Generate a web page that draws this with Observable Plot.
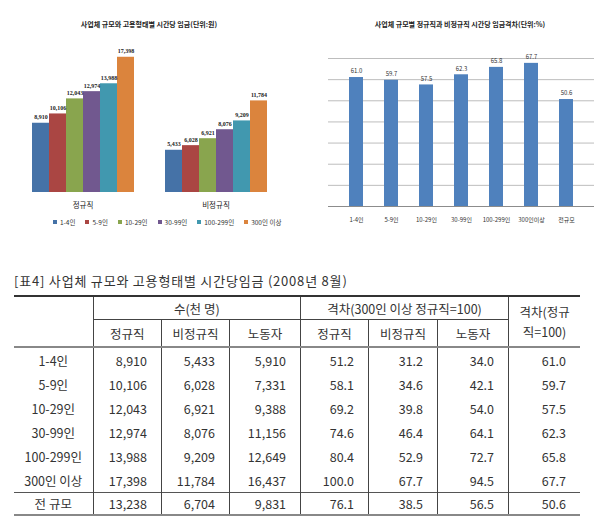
<!DOCTYPE html>
<html>
<head>
<meta charset="utf-8">
<script src="https://cdn.jsdelivr.net/npm/d3@7"></script>
<script src="https://cdn.jsdelivr.net/npm/@observablehq/plot@0.6"></script>
<style>
  body { margin: 0; background: #fff; font-family: "Noto Sans CJK KR", sans-serif; }
  #wrap { position: relative; width: 598px; height: 529px; overflow: hidden; background: #fff; }
  .abs { position: absolute; }
  .ctitle { position: absolute; top: 19px; font-size: 7px; font-weight: bold; color: #222; white-space: nowrap; transform: translateX(-50%); }
  .lg-swatches { font-family: "Noto Sans CJK KR", sans-serif; font-size: 6.5px; color: #333; margin: 0; }
  .lg-swatches-wrap { min-height: 0 !important; }
  .lg-swatch { margin-right: 10px !important; }
  .lg-swatch > svg { margin-right: 3px !important; }
  .ttitle { position: absolute; left: 14px; top: 271px; font-size: 13px; letter-spacing: 0.8px; color: #333; white-space: nowrap; }
  table.tbl { position: absolute; left: 14px; top: 295px; width: 566px; border-collapse: collapse; table-layout: fixed;
    font-size: 12.5px; color: #333; border-top: 2px solid #333; border-bottom: 2px solid #888; }
  table.tbl td { padding: 0; font-weight: normal; border-left: 1px solid #444; border-right: 1px solid #444; white-space: nowrap; }
  table.tbl tr td:first-child { border-left: none; }
  table.tbl tr td:last-child { border-right: none; }
  table.tbl tr.h1 td { height: 22px; text-align: center; }
  table.tbl tr.h1 td.grp { border-bottom: 1px solid #444; }
  table.tbl tr.h2 td { height: 26px; text-align: center; border-bottom: 2px solid #888; }
  table.tbl td.rspan { border-bottom: 2px solid #888; text-align: center; line-height: 20px; }
  table.tbl tr.body td { height: 24px; text-align: right; padding-right: 14px; }
  table.tbl tr.body td.lab { text-align: center; padding-right: 0; }
  table.tbl tr.total td { border-top: 1.5px solid #555; height: 21px; }
</style>
</head>
<body>
<div id="wrap"></div>
<script>
// ---------- data ----------
const sizeLabels = ["1-4인", "5-9인", "10-29인", "30-99인", "100-299인", "300인 이상"];
const employTypes = ["정규직", "비정규직"];
const leftColors = ["#4572A7", "#AA4643", "#89A54E", "#71588F", "#4198AF", "#DB843D"];

const ratioLabels = ["1-4인", "5-9인", "10-29인", "30-99인", "100-299인", "300인이상", "전규모"];
const gridTicks = [0, 10, 20, 30, 40, 50, 60, 70];

const rowLabels = ["1-4인", "5-9인", "10-29인", "30-99인", "100-299인", "300인 이상", "전 규모"];
const regularWage = [8910, 10106, 12043, 12974, 13988, 17398, 13238];
const irregularWage = [5433, 6028, 6921, 8076, 9209, 11784, 6704];
const allWage = [5910, 7331, 9388, 11156, 12649, 16437, 9831];
const gapRegular = [51.2, 58.1, 69.2, 74.6, 80.4, 100.0, 76.1];
const gapIrregular = [31.2, 34.6, 39.8, 46.4, 52.9, 67.7, 38.5];
const gapAll = [34.0, 42.1, 54.0, 64.1, 72.7, 94.5, 56.5];
const ratio = [61.0, 59.7, 57.5, 62.3, 65.8, 67.7, 50.6];

const leftTitle = "사업체 규모와 고용형태별 시간당 임금(단위:원)";
const rightTitle = "사업체 규모별 정규직과 비정규직 시간당 임금격차(단위:%)";
const tableTitle = "[표4] 사업체 규모와 고용형태별 시간당임금 (2008년 8월)";
const headGroup1 = "수(천 명)";
const headGroup2 = "격차(300인 이상 정규직=100)";
const headLast = ["격차(정규", "직=100)"];
const subHeads = ["정규직", "비정규직", "노동자"];

// ---------- layout ----------
const wrap = d3.select("#wrap");
const fmtInt = d3.format(",");
const fmt1 = d3.format(".1f");

// Left chart
const leftData = employTypes.flatMap((t, i) =>
  sizeLabels.map((s, j) => ({type: t, size: s, value: (i === 0 ? regularWage : irregularWage)[j]})));

const left = Plot.plot({
  width: 300, height: 240,
  marginTop: 21, marginBottom: 48, marginLeft: 15, marginRight: 18,
  style: {fontFamily: "'Noto Sans CJK KR', sans-serif", background: "transparent", overflow: "visible"},
  fx: {domain: employTypes, padding: 0, label: null},
  x: {domain: sizeLabels, paddingInner: 0, paddingOuter: 0.76, axis: null},
  y: {domain: [0, 22000], axis: null},
  color: {domain: sizeLabels, range: leftColors},
  marks: [
    Plot.barY(leftData, {fx: "type", x: "size", y: "value", fill: "size"}),
    Plot.text(leftData, {fx: "type", x: "size", y: "value", text: d => fmtInt(d.value), dy: -6,
      fontSize: 6, fontWeight: "bold", fill: "#222", fontFamily: "'Liberation Serif', serif"}),
    Plot.axisFx({anchor: "bottom", tickSize: 0, tickPadding: 10, fontSize: 7.5, fill: "#222", label: null})
  ]
});
wrap.append("div").attr("class", "abs").style("left", "0px").style("top", "0px").node().appendChild(left);
wrap.append("div").attr("class", "ctitle").style("left", "149px").text(leftTitle);

const legend = Plot.legend({color: {domain: sizeLabels, range: leftColors}, legend: "swatches", swatchSize: 4, className: "lg"});
wrap.append("div").attr("class", "abs").style("left", "53px").style("top", "217px").node().appendChild(legend);

// Right chart
const ratioData = ratioLabels.map((l, i) => ({label: l, value: ratio[i]}));
const right = Plot.plot({
  width: 298, height: 240,
  marginTop: 58, marginBottom: 34, marginLeft: 28, marginRight: 4,
  style: {fontFamily: "'Noto Sans CJK KR', sans-serif", background: "transparent", overflow: "visible"},
  x: {domain: ratioLabels, padding: 0.6, axis: null},
  y: {domain: [0, 70], axis: null},
  marks: [
    Plot.ruleY(gridTicks.slice(1), {stroke: "#bdbdbd", strokeWidth: 1}),
    Plot.ruleY([0], {stroke: "#8c8c8c", strokeWidth: 1}),
    Plot.barY(ratioData, {x: "label", y: "value", fill: "#4F81BD"}),
    Plot.text(ratioData, {x: "label", y: "value", text: d => fmt1(d.value), dy: -6, fontSize: 6, fill: "#333"}),
    Plot.axisX({tickSize: 0, tickPadding: 11, fontSize: 6, fill: "#333", label: null})
  ]
});
wrap.append("div").attr("class", "abs").style("left", "300px").style("top", "0px").node().appendChild(right);
wrap.append("div").attr("class", "ctitle").style("left", "460px").text(rightTitle);

// Table
wrap.append("div").attr("class", "ttitle").text(tableTitle);
const tbl = wrap.append("table").attr("class", "tbl");
const cg = tbl.append("colgroup");
[79, 68.5, 68, 71, 68, 69, 71, 71.5].forEach(w => cg.append("col").style("width", w + "px"));
const h1 = tbl.append("tr").attr("class", "h1");
h1.append("td").attr("rowspan", 2).attr("class", "rspan");
h1.append("td").attr("colspan", 3).attr("class", "grp").text(headGroup1);
h1.append("td").attr("colspan", 3).attr("class", "grp").text(headGroup2);
h1.append("td").attr("rowspan", 2).attr("class", "rspan").html(headLast.join("<br>"));
const h2 = tbl.append("tr").attr("class", "h2");
subHeads.concat(subHeads).forEach(s => h2.append("td").text(s));

rowLabels.forEach((lab, i) => {
  const tr = tbl.append("tr").attr("class", i === rowLabels.length - 1 ? "body total" : "body");
  tr.append("td").attr("class", "lab").text(lab);
  [regularWage, irregularWage, allWage].forEach(a => tr.append("td").text(fmtInt(a[i])));
  [gapRegular, gapIrregular, gapAll, ratio].forEach(a => tr.append("td").text(fmt1(a[i])));
});
</script>
</body>
</html>
